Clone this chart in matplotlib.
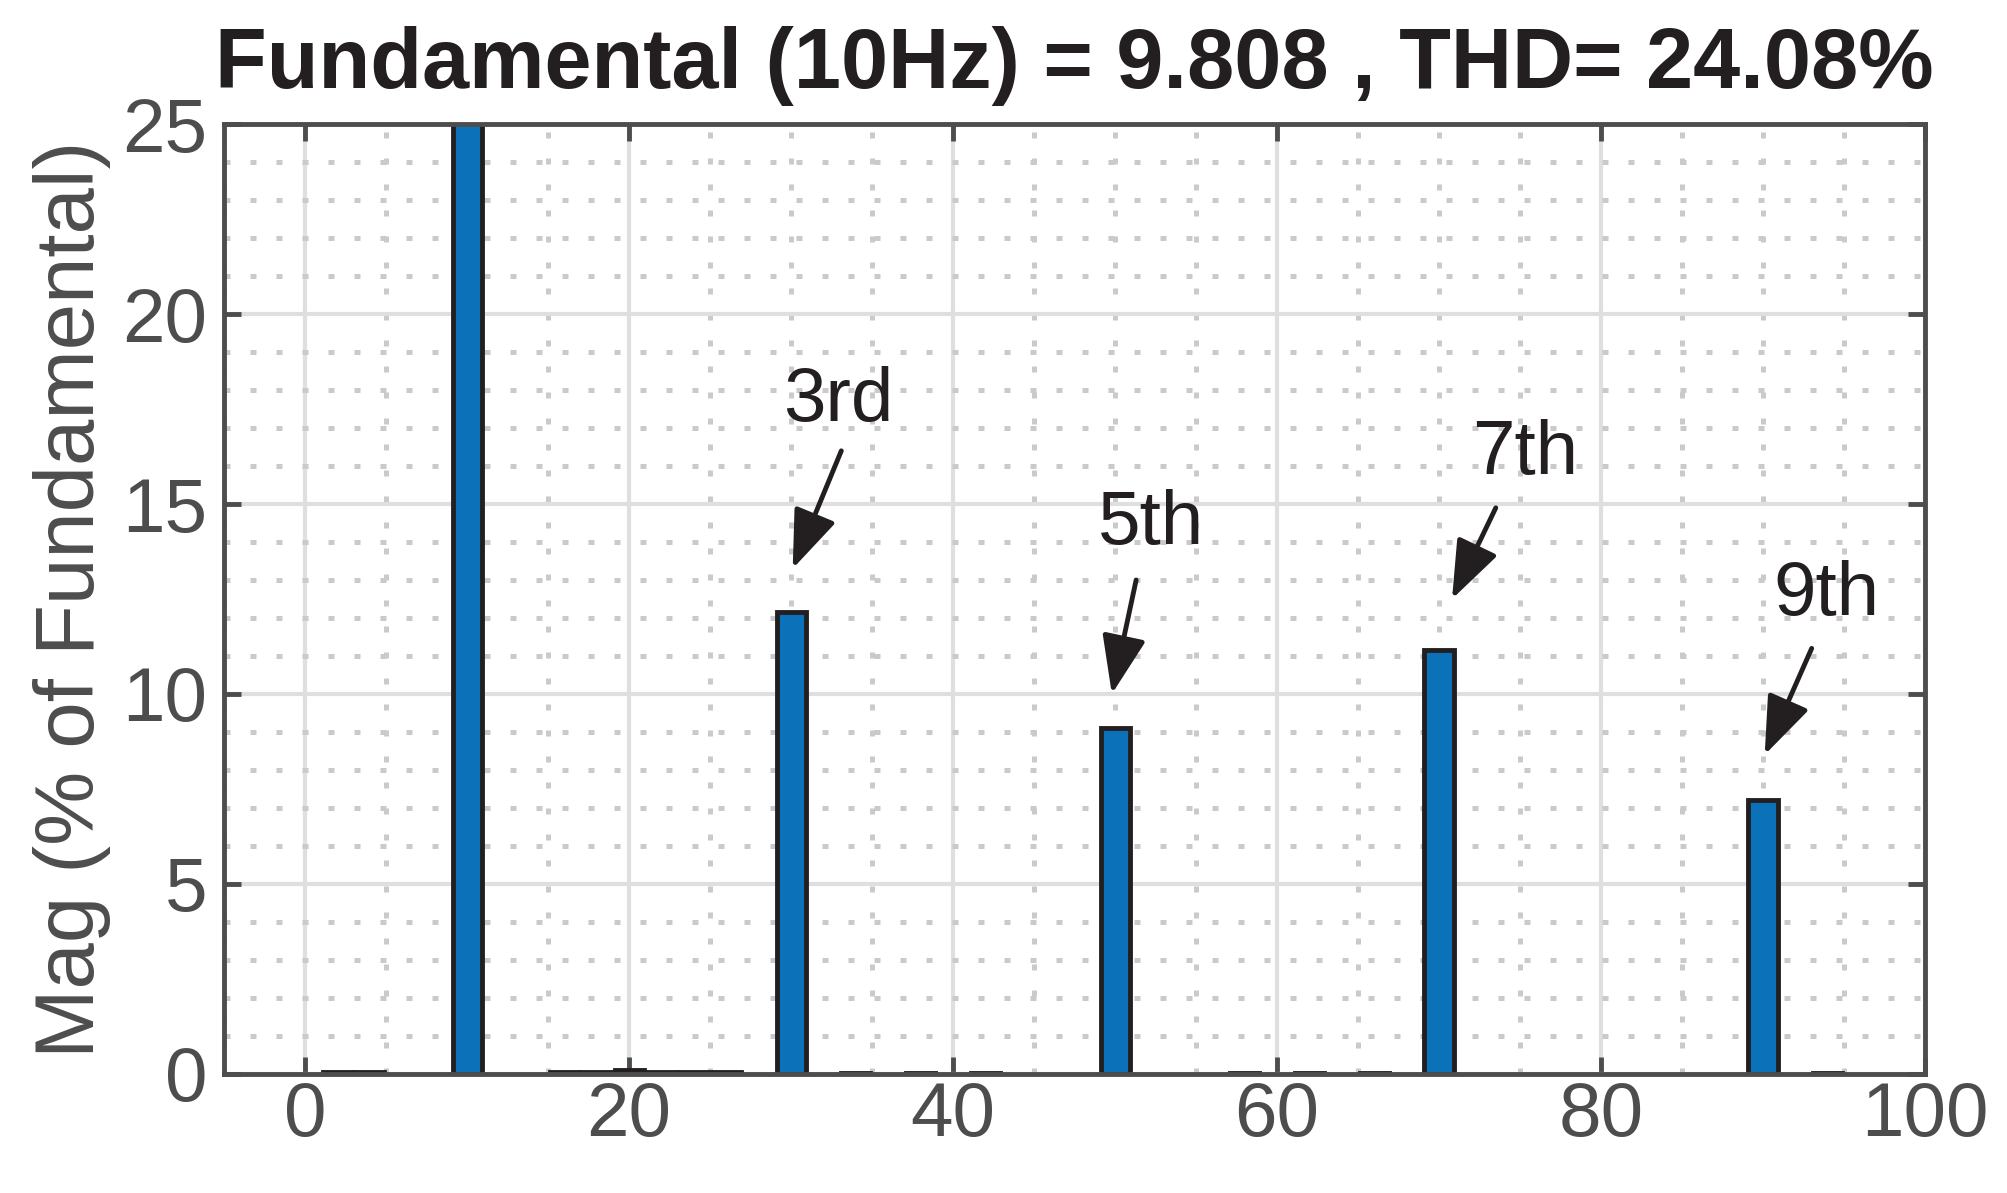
import numpy as np
import matplotlib.pyplot as plt
from matplotlib.ticker import MultipleLocator

# ------------------------------------------------------------
# data
# ------------------------------------------------------------
harm_freq = [10, 30, 50, 70, 90]
harm_mag = [100.0, 12.15, 9.1, 11.15, 7.2]

# tiny leakage bins near zero
noise_freq = [2, 4, 16, 18, 20, 22, 24, 26, 34, 38, 42, 58, 62, 66, 94]
noise_mag = [0.05, 0.05, 0.05, 0.05, 0.1, 0.05, 0.05, 0.05, 0.03, 0.03, 0.03, 0.03, 0.03, 0.03, 0.03]

labels = ["3rd", "5th", "7th", "9th"]
label_xy = [(32.9, 17.7), (52.2, 14.45), (75.3, 16.3), (93.9, 12.6)]
arrow_tail = [(33.1, 16.4), (51.3, 13.0), (73.5, 14.9), (93.0, 11.2)]
arrow_head = [(30.1, 13.3), (49.8, 10.0), (70.8, 12.5), (90.1, 8.4)]

title = "Fundamental (10Hz) = 9.808 , THD= 24.08%"

plt.rcParams["font.family"] = ["Liberation Sans", "DejaVu Sans"]

dark = "#4d4d4d"
edge = "#231f20"

fig = plt.figure(figsize=(20.08, 11.93), dpi=100)
ax = fig.add_axes([0.1116, 0.0998, 0.8471, 0.7962])

ax.bar(noise_freq, noise_mag, width=1.8, color="#0b72b9", edgecolor=edge, linewidth=3.5, zorder=3)
ax.bar(harm_freq, harm_mag, width=1.8, color="#0b72b9", edgecolor=edge, linewidth=3.5, zorder=3)

ax.set_xlim(-5, 100)
ax.set_ylim(0, 25)
ax.xaxis.set_major_locator(MultipleLocator(20))
ax.xaxis.set_minor_locator(MultipleLocator(5))
ax.yaxis.set_major_locator(MultipleLocator(5))
ax.yaxis.set_minor_locator(MultipleLocator(1))

ax.grid(which="major", color="#dfdfdf", linewidth=3, zorder=0)
ax.grid(which="minor", color="#cacacb", linewidth=3.6, linestyle=(0, (1.2, 4.0)), zorder=0)
ax.set_axisbelow(True)

for s in ax.spines.values():
    s.set_color(dark)
    s.set_linewidth(3.5)
    s.set_zorder(5)

ax.tick_params(which="major", direction="in", length=12, width=3.5, color=dark,
               top=True, right=True, labelsize=55, labelcolor=dark)
ax.tick_params(axis="y", which="major", pad=12)
ax.tick_params(axis="x", which="major", pad=5)
ax.tick_params(which="minor", length=0)

ax.set_ylabel("Mag (% of Fundamental)", fontsize=60, color=dark, labelpad=8)
ax.set_title(title, fontsize=61, fontweight="bold", color=edge, pad=26)

for lab, txy, tail, head in zip(labels, label_xy, arrow_tail, arrow_head):
    ax.text(txy[0], txy[1], lab, fontsize=55, color=edge, ha="center", va="center", zorder=6)
    ax.annotate("", xy=head, xytext=tail,
                arrowprops=dict(arrowstyle="-|>,head_length=0.9,head_width=0.34",
                                mutation_scale=40, color=edge, lw=3.5,
                                shrinkA=0, shrinkB=0),
                zorder=6)

fig.savefig("out.png", dpi=100)
